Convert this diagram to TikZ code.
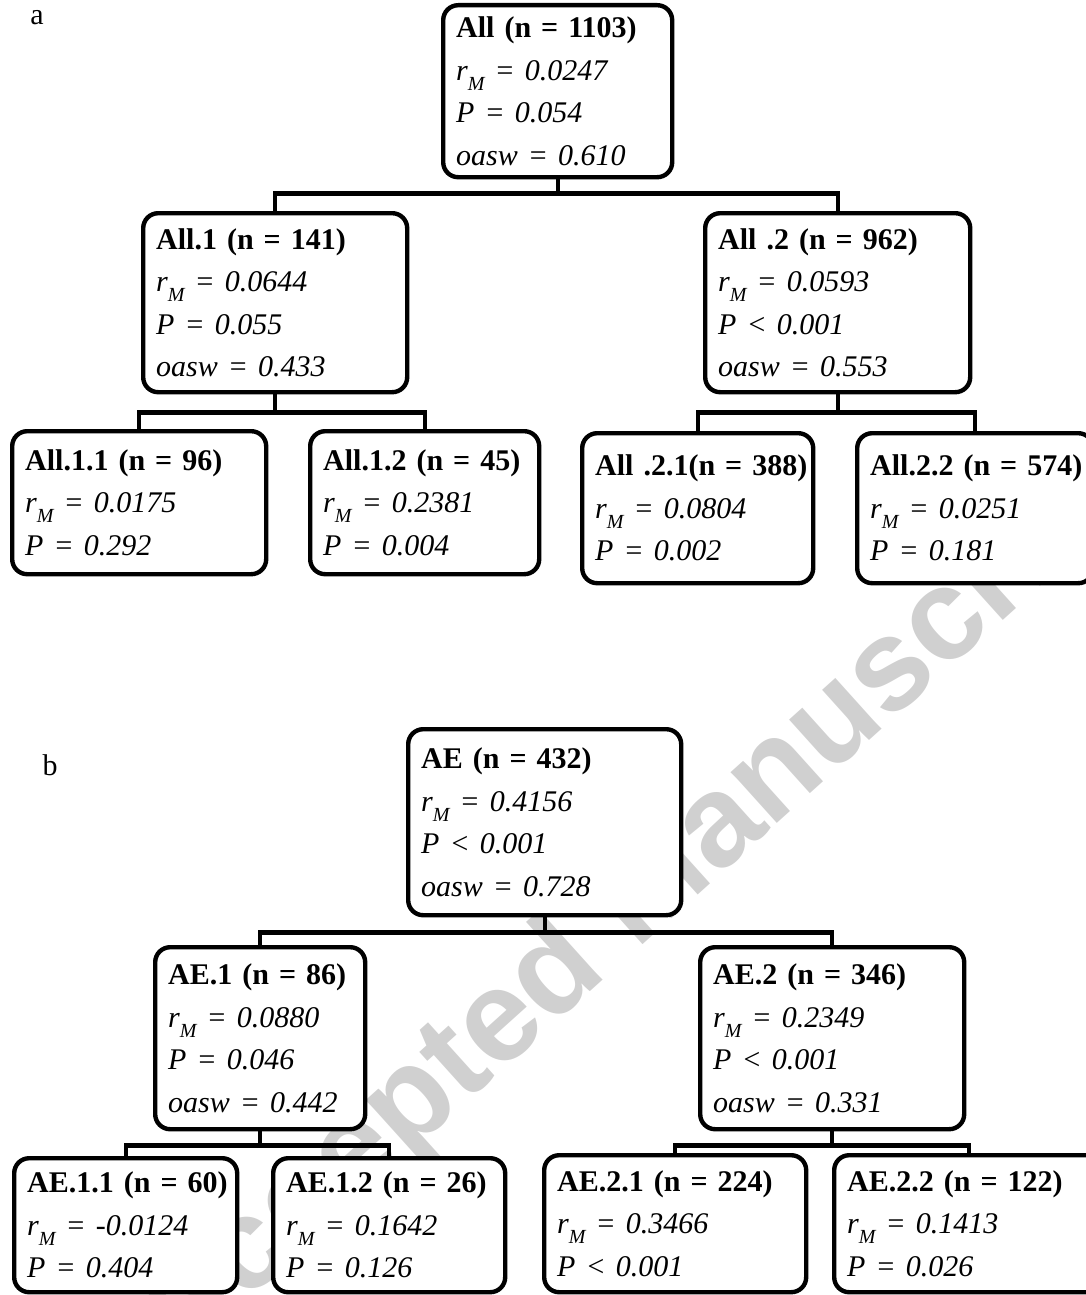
\documentclass[tikz,border=0pt]{standalone}
\usepackage{fontspec}
\setmainfont{Liberation Serif}
\newfontfamily\wmfont{Liberation Sans}
\definecolor{wmgray}{RGB}{208,208,208}

\newcommand{\rM}{\textit{r}\raisebox{-10pt}{\fontsize{20}{20}\selectfont\itshape M}}
\newcommand{\hd}[1]{\mbox{\bfseries #1}}
\newcommand{\vl}[1]{\mbox{\itshape #1}}

\tikzset{
  tbox/.style 2 args={draw, line width=4.4pt, rounded corners=15pt, fill=white,
    anchor=north west, align=left, inner xsep=13pt, inner ysep=0pt,
    text width=#1, minimum height=#2, font=\fontsize{30}{42.5}\selectfont},
  conn/.style={line width=4.2pt},
  lbl/.style={font=\fontsize{30}{36}\selectfont},
}

\begin{document}
\begin{tikzpicture}[x=1pt,y=-1pt]
    \useasboundingbox (0,0) rectangle (1085,1295);
    \node[text=wmgray, rotate=42, font=\wmfont\fontsize{130}{130}\selectfont\bfseries] (wm) at (641,901) {Accepted Manuscript};

    % panel a
    \node[lbl] (lbla) at (37,18) {a};
    \node[tbox={203pt}{172pt}] (root) at (441,3)
        {\hd{All (n = 1103)}\\ \vl{\rM{} = 0.0247}\\ \vl{P = 0.054}\\ \vl{oasw = 0.610}};
    \node[tbox={238pt}{179pt}] (all1) at (141,211)
        {\hd{All.1 (n = 141)}\\ \vl{\rM{} = 0.0644}\\ \vl{P = 0.055}\\ \vl{oasw = 0.433}};
    \node[tbox={239pt}{179pt}] (all2) at (703,211)
        {\hd{All .2 (n = 962)}\\ \vl{\rM{} = 0.0593}\\ \vl{P < 0.001}\\ \vl{oasw = 0.553}};
    \node[tbox={228pt}{143pt}] (all11) at (10,429)
        {\hd{All.1.1 (n = 96)}\\ \vl{\rM{} = 0.0175}\\ \vl{P = 0.292}};
    \node[tbox={203pt}{143pt}] (all12) at (308,429)
        {\hd{All.1.2 (n = 45)}\\ \vl{\rM{} = 0.2381}\\ \vl{P = 0.004}};
    \node[tbox={205pt}{150pt}] (all21) at (580,431)
        {\hd{All .2.1(n = 388)}\\ \vl{\rM{} = 0.0804}\\ \vl{P = 0.002}};
    \node[tbox={210pt}{150pt}] (all22) at (855,431)
        {\hd{All.2.2 (n = 574)}\\ \vl{\rM{} = 0.0251}\\ \vl{P = 0.181}};

    % panel b
    \node[lbl] (lblb) at (50,765) {b};
    \node[tbox={247pt}{186pt}] (ae) at (406,727)
        {\hd{AE (n = 432)}\\ \vl{\rM{} = 0.4156}\\ \vl{P < 0.001}\\ \vl{oasw = 0.728}};
    \node[tbox={184pt}{182pt}] (ae1) at (153,945)
        {\hd{AE.1 (n = 86)}\\ \vl{\rM{} = 0.0880}\\ \vl{P = 0.046}\\ \vl{oasw = 0.442}};
    \node[tbox={238pt}{182pt}] (ae2) at (698,945)
        {\hd{AE.2 (n = 346)}\\ \vl{\rM{} = 0.2349}\\ \vl{P < 0.001}\\ \vl{oasw = 0.331}};
    \node[tbox={197pt}{134pt}] (ae11) at (12,1156)
        {\hd{AE.1.1 (n = 60)}\\ \vl{\rM{} = -0.0124}\\ \vl{P = 0.404}};
    \node[tbox={206pt}{134pt}] (ae12) at (271,1156)
        {\hd{AE.1.2 (n = 26)}\\ \vl{\rM{} = 0.1642}\\ \vl{P = 0.126}};
    \node[tbox={236pt}{137pt}] (ae21) at (542,1153)
        {\hd{AE.2.1 (n = 224)}\\ \vl{\rM{} = 0.3466}\\ \vl{P < 0.001}};
    \node[tbox={244pt}{137pt}] (ae22) at (832,1153)
        {\hd{AE.2.2 (n = 122)}\\ \vl{\rM{} = 0.1413}\\ \vl{P = 0.026}};

    % tree links
    \foreach \p/\c/\d in {root/all1/14, root/all2/14, all1/all11/18, all1/all12/18,
                          all2/all21/18, all2/all22/18, ae/ae1/15, ae/ae2/15,
                          ae1/ae11/14, ae1/ae12/14, ae2/ae21/14, ae2/ae22/14}
        \draw[conn] (\p.south) -- ++(0,\d) -| (\c.north);
\end{tikzpicture}
\end{document}
